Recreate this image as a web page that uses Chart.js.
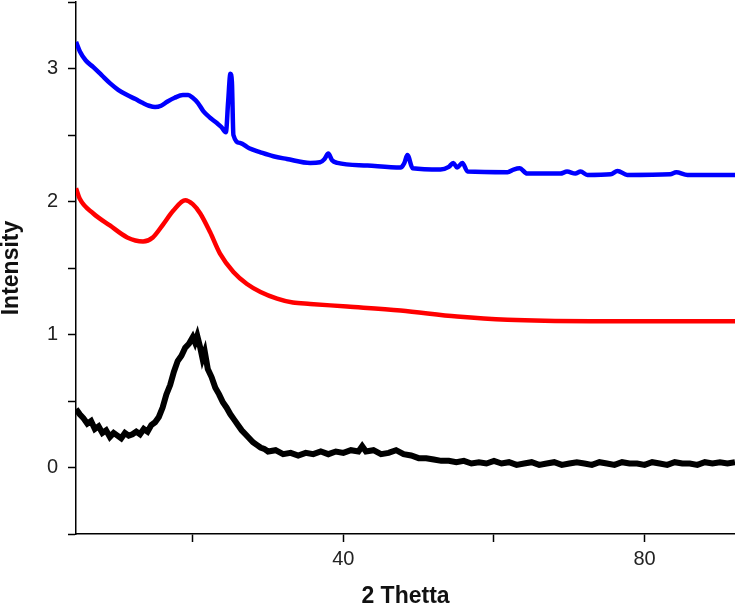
<!DOCTYPE html>
<html>
<head>
<meta charset="utf-8">
<script src="https://cdn.jsdelivr.net/npm/chart.js@4/dist/chart.umd.min.js"></script>
<style>
html,body{margin:0;padding:0;background:#fff;}
canvas{display:block;}
</style>
</head>
<body>
<canvas id="c" width="735" height="608"></canvas>
<script>
// ---- data ----
const blackX = [4.5,5.0,5.5,6.0,6.5,7.0,7.5,8.0,8.5,9.0,9.5,10.0,10.5,11.0,11.5,12.0,12.5,13.0,13.5,14.0,14.5,15.0,15.5,16.0,16.5,17.0,17.5,18.0,18.5,19.0,19.5,20.0,20.3,20.6,21.0,21.3,21.6,22.0,22.5,23.0,23.5,24.0,24.5,25.0,25.5,26.0,26.5,27.0,27.5,28.0,28.5,29.0,29.5,30.0,31,32,33,34,35,36,37,38,39,40,41,42,42.5,43,44,45,46,47,48,49,50,51,52,53,54,55,56,57,58,59,60,61,62,63,64,65,66,67,68,69,70,71,72,73,74,75,76,77,78,79,80,81,82,83,84,85,86,87,88,89,90,91,92];
const blackY = [0.44,0.40,0.37,0.33,0.35,0.29,0.31,0.26,0.28,0.23,0.26,0.24,0.22,0.26,0.24,0.25,0.27,0.25,0.29,0.27,0.32,0.34,0.38,0.45,0.55,0.62,0.72,0.80,0.84,0.90,0.93,0.98,0.94,0.99,0.90,0.82,0.87,0.74,0.68,0.60,0.55,0.49,0.45,0.40,0.36,0.32,0.28,0.25,0.22,0.19,0.17,0.15,0.14,0.12,0.13,0.10,0.11,0.09,0.11,0.10,0.12,0.10,0.12,0.11,0.13,0.12,0.16,0.12,0.13,0.10,0.11,0.13,0.10,0.09,0.07,0.07,0.06,0.05,0.05,0.04,0.05,0.03,0.04,0.03,0.05,0.03,0.04,0.02,0.03,0.04,0.02,0.03,0.04,0.02,0.03,0.04,0.03,0.02,0.04,0.03,0.02,0.04,0.03,0.03,0.02,0.04,0.03,0.02,0.04,0.03,0.03,0.02,0.04,0.03,0.04,0.03,0.04];

const redX = [4.5,5.0,6.8,9.0,11.3,13.4,14.7,16.1,17.4,19.0,20.0,21.0,22.3,23.6,25.4,27.2,29.0,31.2,33.3,35.6,40.5,47.6,55.1,61.8,72.8,80.8,92];
const redY = [2.10,2.02,1.91,1.82,1.73,1.70,1.73,1.83,1.93,2.01,1.98,1.91,1.77,1.61,1.47,1.38,1.32,1.27,1.24,1.23,1.21,1.18,1.135,1.11,1.10,1.10,1.10];

const blueX = [4.5,5.0,5.8,6.8,7.9,9.0,10.1,11.3,12.4,13.4,14.2,15.0,15.8,16.6,17.6,18.7,19.4,20.0,20.7,21.4,22.3,23.2,23.8,24.4,24.7,25.0,25.2,25.4,26.3,27.5,29.0,30.7,32.5,35.6,36.9,37.5,38.0,38.5,39.2,43.2,47.6,48.1,48.5,49.2,52.9,54.0,54.6,55.1,55.8,56.5,61.8,62.6,63.4,64.4,68.8,69.7,70.8,71.5,72.4,75.5,76.4,77.7,83.4,84.2,85.7,92];
const blueY = [3.20,3.13,3.06,3.01,2.95,2.89,2.84,2.80,2.77,2.74,2.72,2.71,2.72,2.75,2.78,2.80,2.80,2.78,2.74,2.68,2.63,2.59,2.56,2.52,2.75,2.96,2.90,2.50,2.44,2.40,2.37,2.34,2.32,2.29,2.295,2.32,2.36,2.31,2.29,2.27,2.255,2.29,2.35,2.25,2.24,2.26,2.29,2.255,2.29,2.225,2.22,2.24,2.25,2.21,2.21,2.225,2.21,2.225,2.20,2.205,2.23,2.20,2.205,2.22,2.20,2.20];

const xTickValues = [20,40,60,80];
const xTickLabels = ['','40','','80'];
const yTickLabelsAt = [0,1,2,3];

const pts = (xs, ys) => xs.map((x, i) => ({x: x, y: ys[i]}));

const FONT = "'Liberation Sans', Arial, sans-serif";

new Chart(document.getElementById('c'), {
  type: 'line',
  data: {
    datasets: [
      {data: pts(blackX, blackY), borderColor: '#000000', borderWidth: 6, pointRadius: 0, tension: 0},
      {data: pts(redX, redY), borderColor: '#ff0000', borderWidth: 4.5, pointRadius: 0, cubicInterpolationMode: 'monotone'},
      {data: pts(blueX, blueY), borderColor: '#0000ff', borderWidth: 4.5, pointRadius: 0, cubicInterpolationMode: 'monotone'}
    ]
  },
  options: {
    responsive: false,
    animation: false,
    devicePixelRatio: 1,
    layout: {padding: {left: 0, right: 0, top: 2, bottom: 0}},
    plugins: {legend: {display: false}, tooltip: {enabled: false}},
    scales: {
      x: {
        type: 'linear',
        min: 4.5, max: 92,
        afterBuildTicks: s => { s.ticks = xTickValues.map(v => ({value: v})); },
        afterFit: s => { s.height = 74; s.paddingLeft = 0; s.paddingRight = 0; },
        border: {display: true, color: '#000', width: 1.5},
        grid: {drawOnChartArea: false, drawTicks: true, tickLength: 8, color: '#000', tickWidth: 1.5},
        ticks: {
          color: '#222', padding: 5, maxRotation: 0,
          font: {family: FONT, size: 20},
          callback: v => { const i = xTickValues.indexOf(v); return i >= 0 ? xTickLabels[i] : ''; }
        },
        title: {display: true, text: '2 Thetta', color: '#111', font: {family: FONT, size: 23, weight: 'bold', lineHeight: 1}, padding: {top: 0, bottom: 0}}
      },
      y: {
        type: 'linear',
        min: -0.5, max: 3.5,
        afterFit: s => { s.width = 76; s.paddingTop = 0; s.paddingBottom = 0; },
        border: {display: true, color: '#000', width: 1.5},
        grid: {drawOnChartArea: false, drawTicks: true, tickLength: 8, color: '#000', tickWidth: 1.5},
        ticks: {
          stepSize: 0.5, color: '#222', padding: 10,
          font: {family: FONT, size: 20},
          callback: v => yTickLabelsAt.includes(v) ? String(v) : ''
        },
        title: {display: true, text: 'Intensity', color: '#111', font: {family: FONT, size: 23, weight: 'bold', lineHeight: 1}, padding: 0}
      }
    }
  }
});
</script>
</body>
</html>
